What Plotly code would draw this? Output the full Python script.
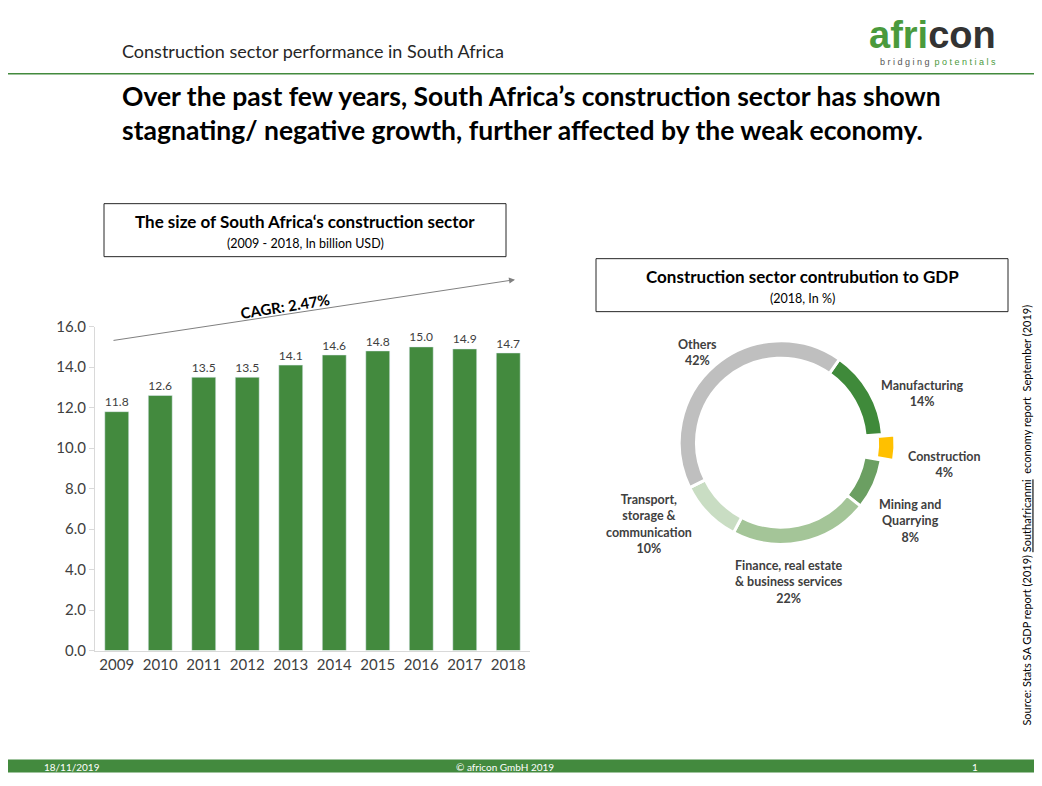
import plotly.graph_objects as go

W, H = 1026, 775
OX, OY = 8, 17

# Dados
years = ['2009', '2010', '2011', '2012', '2013', '2014', '2015', '2016', '2017', '2018']
size_bn_usd = [11.8, 12.6, 13.5, 13.5, 14.1, 14.6, 14.8, 15.0, 14.9, 14.7]

sectors = ['Manufacturing', 'Construction', 'Mining and<br>Quarrying',
           'Finance, real estate<br>& business services',
           'Transport,<br>storage &<br>communication', 'Others']
share_pct = [14, 4, 8, 22, 10, 42]
sector_colors = ['#3f8a3a', '#ffc000', '#6b9f62', '#a4c598', '#c9ddc3', '#bfbfbf']

green = '#438a3e'
font = 'Lato, Calibri, sans-serif'


def px(x):
    return (x - OX) / W


def py(y):
    # correção empírica da escala vertical da captura
    y = 73 + (y - 72) / 0.977
    return 1 - (y - OY) / H


fig = go.Figure()

fig.add_trace(go.Bar(
    x=years, y=size_bn_usd, marker_color=green, width=0.55,
    text=[f'{v:.1f}' for v in size_bn_usd], textposition='outside',
    textfont=dict(size=15, color='#404040'), cliponaxis=False,
))

fig.add_trace(go.Pie(
    labels=sectors, values=share_pct, sort=False, direction='clockwise', rotation=35,
    hole=0.83, marker=dict(colors=sector_colors, line=dict(color='white', width=3)),
    pull=[0, 0.12, 0, 0, 0, 0], textinfo='none', showlegend=False,
    domain=dict(x=[px(667), px(895)], y=[py(556), py(328)]),
))

# Rótulos do gráfico de rosca
donut_labels = [
    ('Others<br>42%', 697, 352),
    ('Manufacturing<br>14%', 922, 393),
    ('Construction<br>4%', 944, 464),
    ('Mining and<br>Quarrying<br>8%', 910, 520),
    ('Finance, real estate<br>& business services<br>22%', 789, 581),
    ('Transport,<br>storage &<br>communication<br>10%', 649, 523),
]
for txt, x, y in donut_labels:
    fig.add_annotation(x=px(x), y=py(y), xref='paper', yref='paper', text=f'<b>{txt}</b>',
                       showarrow=False, align='center', xanchor='center', yanchor='middle',
                       font=dict(size=12.5, color='#404040'))

fig.update_layout(
    width=W, height=H, margin=dict(l=0, r=0, t=0, b=0),
    paper_bgcolor='white', plot_bgcolor='white', showlegend=False,
    font=dict(family=font, color='#404040'),
    xaxis=dict(domain=[px(95), px(530)], showline=True, linecolor='#d9d9d9',
               tickfont=dict(size=15, color='#404040'), ticks=''),
    yaxis=dict(domain=[py(650), py(326)], range=[0, 16], dtick=2, tickformat='.1f',
               showgrid=False, showline=True, linecolor='#d9d9d9', ticks='outside',
               tickcolor='#d9d9d9', tickfont=dict(size=15, color='#404040')),
)

shapes = [
    dict(type='line', x0=OX, x1=W + OX, y0=73, y1=73, line=dict(color=green, width=1.5)),
    dict(type='rect', x0=OX, x1=W + OX, y0=759, y1=772, fillcolor=green, line=dict(width=0)),
    dict(type='rect', x0=104, x1=506, y0=203, y1=256, line=dict(color='#262626', width=1)),
    dict(type='rect', x0=596, x1=1008, y0=258, y1=311, line=dict(color='#262626', width=1)),
]
for s in shapes:
    s.update(xref='paper', yref='paper', x0=px(s['x0']), x1=px(s['x1']),
             y0=py(s['y0']), y1=py(s['y1']), layer='below')
    fig.add_shape(**s)

texts = [
    ('Construction sector performance in South Africa', 120, 50, 18, '#262626', 'left', 0),
    ('<b>Over the past few years, South Africa’s construction sector has shown<br>'
     'stagnating/ negative growth, further affected by the weak economy.</b>',
     120, 112, 26.5, '#000000', 'left', 0),
    ('<b>The size of South Africa‘s construction sector</b>', 305, 221, 17, '#000000', 'center', 0),
    ('(2009 - 2018, In billion USD)', 305, 243, 12.5, '#000000', 'center', 0),
    ('<b>Construction sector contrubution to GDP</b>', 802, 276, 17, '#000000', 'center', 0),
    ('(2018, In %)', 802, 298, 12.5, '#000000', 'center', 0),
    ('<b>CAGR: 2.47%</b>', 285, 305, 15, '#000000', 'center', -9),
    ('18/11/2019', 72, 766, 10, 'white', 'center', 0),
    ('© africon GmbH 2019', 505, 766, 10, 'white', 'center', 0),
    ('1', 975, 766, 10, 'white', 'center', 0),
    ('Source: Stats SA GDP report (2019) <u>Southafricanmi</u>  economy report  September (2019)',
     1027, 515, 11, '#000000', 'center', -90),
]
for txt, x, y, sz, col, al, ang in texts:
    fig.add_annotation(x=px(x), y=py(y), xref='paper', yref='paper', text=txt, showarrow=False,
                       align=al, xanchor=al if al != 'center' else 'center', yanchor='middle',
                       textangle=ang, font=dict(size=sz, color=col))

# Seta CAGR
fig.add_annotation(x=px(515), y=py(279), ax=112 - 515, ay=340 - 279, xref='paper', yref='paper',
                   axref='pixel', ayref='pixel', text='', showarrow=True, arrowhead=2,
                   arrowsize=1.2, arrowwidth=1, arrowcolor='#808080')

# Logo
fig.add_annotation(x=px(998), y=py(34), xref='paper', yref='paper', showarrow=False,
                   xanchor='right', yanchor='middle',
                   text='<b><span style="color:#4a9a3c">afri</span><span style="color:#333333">con</span></b>',
                   font=dict(size=38, family='Arial, sans-serif'))
fig.add_annotation(x=px(998), y=py(61), xref='paper', yref='paper', showarrow=False,
                   xanchor='right', yanchor='middle',
                   text='<span style="color:#555">b r i d g i n g  </span><span style="color:#4a9a3c">p o t e n t i a l s</span>',
                   font=dict(size=9, family='Arial, sans-serif'))

fig.write_html('out.html')
